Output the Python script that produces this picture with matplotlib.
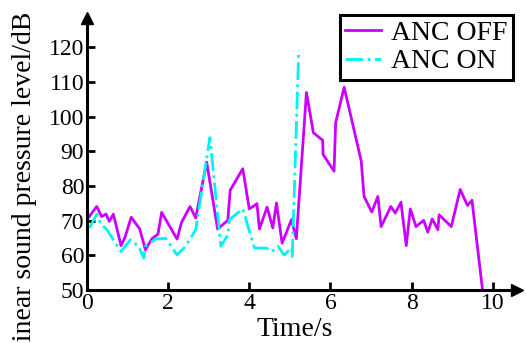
import matplotlib
matplotlib.use("Agg")
import matplotlib.pyplot as plt

plt.rcParams['font.family'] = ['Liberation Serif', 'DejaVu Serif']

# ANC OFF trace
t_off = [0.03, 0.24, 0.36, 0.47, 0.55, 0.65, 0.84, 0.94, 1.09, 1.30, 1.44, 1.60,
         1.75, 1.84, 2.22, 2.33, 2.54, 2.68, 2.95, 3.22, 3.47, 3.53, 3.84, 4.00,
         4.19, 4.25, 4.44, 4.58, 4.67, 4.81, 5.04, 5.16, 5.41, 5.58, 5.81, 5.82,
         6.09, 6.13, 6.34, 6.76, 6.83, 7.02, 7.17, 7.25, 7.49, 7.60, 7.74, 7.87,
         7.97, 8.11, 8.30, 8.40, 8.51, 8.65, 8.68, 8.98, 9.20, 9.38, 9.49, 9.75]
spl_off = [70.8, 74.1, 71.2, 71.9, 69.8, 71.9, 62.8, 65.3, 71.0, 67.6, 61.6, 64.8,
           66.1, 72.4, 64.7, 69.5, 74.1, 70.8, 86.9, 67.6, 70.1, 78.8, 85.0, 73.4,
           74.9, 67.6, 73.9, 67.9, 75.1, 63.5, 70.3, 64.8, 107.0, 95.4, 93.2, 89.1,
           84.3, 98.3, 108.5, 87.2, 77.0, 72.5, 77.0, 68.3, 74.1, 72.2, 75.3, 62.8,
           73.4, 68.3, 70.1, 66.7, 70.5, 67.4, 71.7, 68.3, 79.0, 74.4, 75.9, 50.0]

# ANC ON trace
t_on = [0.06, 0.24, 0.34, 0.49, 0.84, 1.07, 1.27, 1.40, 1.44, 1.69, 1.94, 2.22,
        2.43, 2.68, 3.03, 3.30, 3.47, 3.51, 3.84, 4.13, 4.42, 4.56, 4.71, 4.86,
        5.04, 5.06, 5.22]
spl_on = [67.9, 71.9, 69.1, 67.4, 61.1, 64.5, 62.6, 59.2, 62.6, 64.7, 64.9, 60.1,
          62.6, 67.4, 94.0, 62.6, 65.9, 70.3, 73.4, 62.1, 62.1, 61.1, 62.6, 60.1,
          62.1, 59.7, 119.2]

x_ticks = [0, 2, 4, 6, 8, 10]
y_ticks = [50, 60, 70, 80, 90, 100, 110, 120]

fig = plt.figure(figsize=(5.26, 3.43), dpi=100)
ax = fig.add_axes([87/526, 53/343, 430/526, 272/343])

ax.plot(t_off, spl_off, color='#CC00FF', lw=2.0, label='ANC OFF')
ax.plot(t_on, spl_on, color='#00F2F2', lw=2.0, ls='-.', label='ANC ON')

ax.set_xlim(0, 10.6)
ax.set_ylim(50, 128.5)
ax.set_xticks(x_ticks)
ax.set_yticks(y_ticks)
ax.tick_params(direction='in', length=6, width=2, labelsize=17, pad=2)

for s in ['top', 'right']:
    ax.spines[s].set_visible(False)
for s in ['left', 'bottom']:
    ax.spines[s].set_linewidth(2.2)

# arrow heads at the ends of the axes
ax.plot(1, 0, '>k', ms=9, transform=ax.transAxes, clip_on=False)
ax.plot(0, 1, '^k', ms=9, transform=ax.transAxes, clip_on=False)

fig.text(295/526, 1 - 330/343, 'Time/s', ha='center', va='center', fontsize=20)
fig.text(25/526, 1 - 12/343, 'linear sound pressure level/dB', rotation=90,
         ha='center', va='top', fontsize=20)

leg = ax.legend(loc='upper right', bbox_to_anchor=(513/526, 1 - 15/343),
                bbox_transform=fig.transFigure, fontsize=20, handlelength=1.3,
                fancybox=False, framealpha=1, borderpad=0.2, labelspacing=0.1,
                handletextpad=0.35, borderaxespad=0)
leg.get_frame().set_edgecolor('black')
leg.get_frame().set_linewidth(2.2)

fig.savefig('out.png', dpi=100)
